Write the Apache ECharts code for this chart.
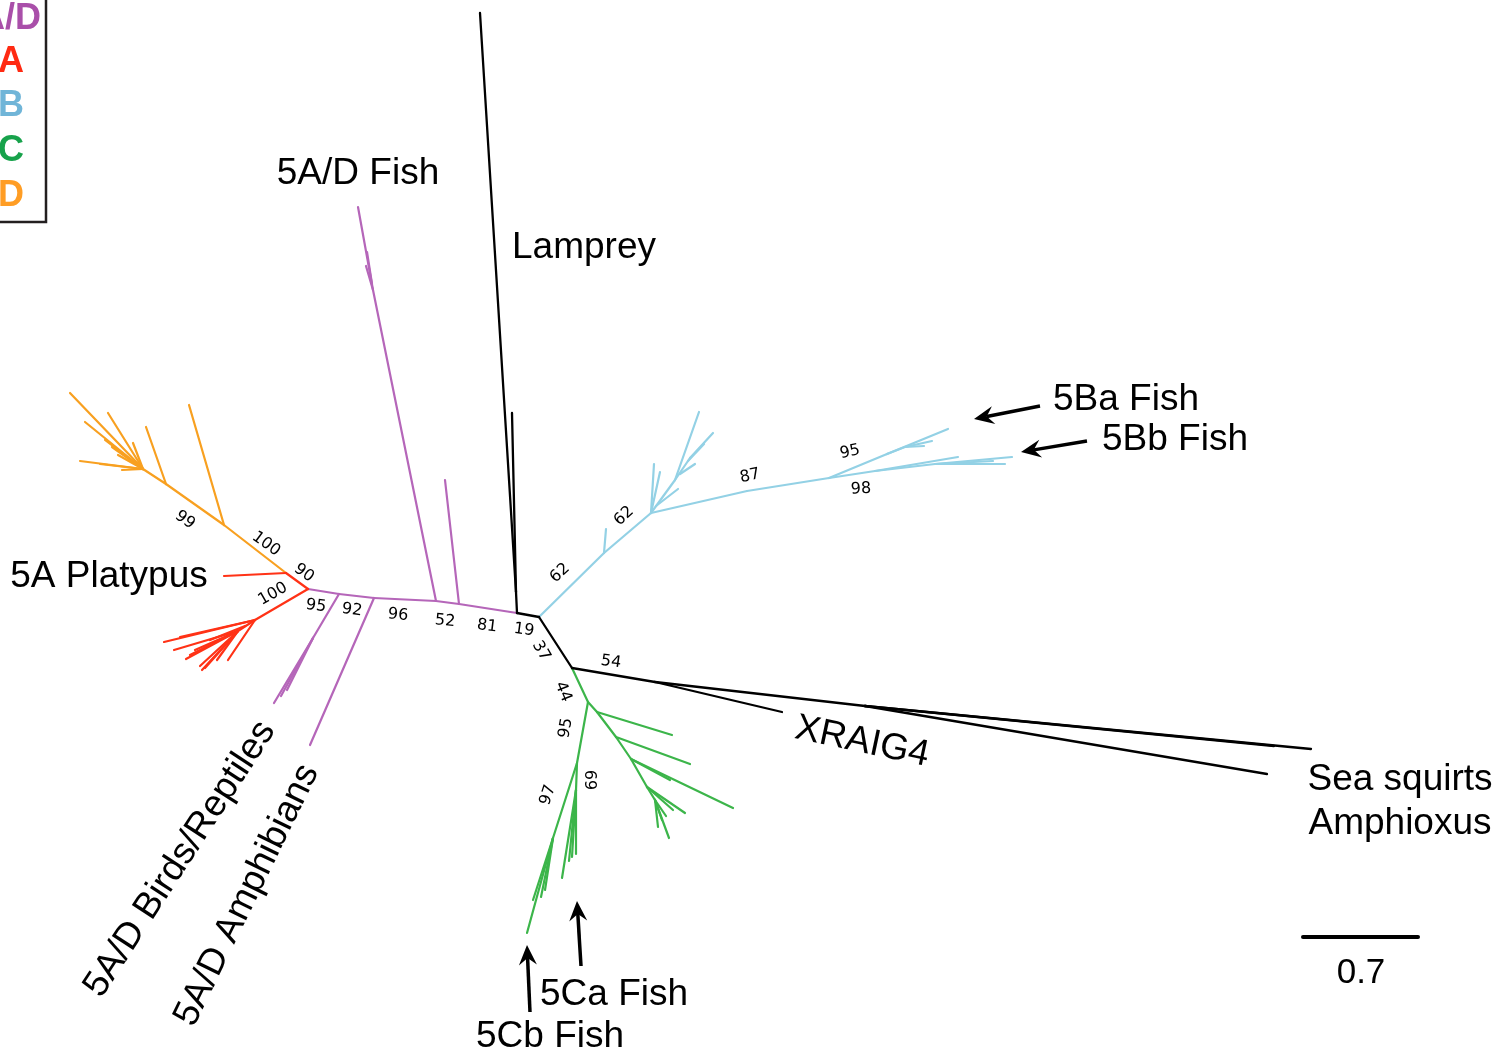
<!DOCTYPE html>
<html>
<head>
<meta charset="utf-8">
<script src="https://cdn.jsdelivr.net/npm/echarts@6/dist/echarts.min.js"></script>
<style>
html,body{margin:0;padding:0;background:#fff;}
#chart{width:1503px;height:1064px;}
</style>
</head>
<body>
<div id="chart"></div>
<script>
// ---- Tree branches (node positions in plot units) ----
const purplePaths = [
  [[308,589],[339,594],[374,598],[436,601],[459,604],[517,613]],
  [[339,594],[313,638],[274,703]],
  [[313,638],[287,690]],
  [[313,638],[281,696]],
  [[374,598],[310,745]],
  [[436,601],[373,290],[358,207]],
  [[372,284],[367,252]],
  [[373,290],[366,266]],
  [[459,604],[445,480]]
];
const blackPaths = [
  [[517,613],[516,592],[480,13]],
  [[516,592],[512,413]],
  [[517,613],[539,617],[572,668],[655,682],[782,712]],
  [[655,682],[865,706],[1311,749]],
  [[865,706],[1274,746]],
  [[865,706],[1267,774]]
];
const bluePaths = [
  [[539,617],[604,553],[651,513]],
  [[604,553],[606,529]],
  [[651,513],[654,464]],
  [[651,513],[660,472]],
  [[651,513],[675,480],[699,412]],
  [[675,480],[690,458],[713,433]],
  [[688,461],[704,444]],
  [[680,474],[695,464]],
  [[656,506],[678,489]],
  [[651,513],[747,491],[829,478]],
  [[829,478],[887,454],[948,429]],
  [[887,454],[905,447],[932,441]],
  [[905,447],[924,446]],
  [[829,478],[875,471],[958,457]],
  [[875,471],[935,464],[1012,457]],
  [[935,464],[1005,464]],
  [[935,464],[993,461]]
];
const greenPaths = [
  [[572,668],[588,702],[597,712],[672,735]],
  [[597,712],[616,737],[690,764]],
  [[616,737],[631,759],[733,808]],
  [[631,759],[670,780]],
  [[631,759],[647,787],[685,813]],
  [[647,787],[673,810]],
  [[647,787],[655,800],[669,838]],
  [[655,800],[658,827]],
  [[655,800],[662,820]],
  [[655,800],[666,816]],
  [[588,702],[577,763],[553,838],[527,933]],
  [[553,838],[533,900]],
  [[553,838],[541,897]],
  [[553,838],[545,890]],
  [[577,763],[576,790],[576,854]],
  [[576,790],[572,857]],
  [[576,790],[569,861]],
  [[576,790],[562,878]]
];
const orangePaths = [
  [[286,573],[224,525],[189,405]],
  [[224,525],[166,484],[146,427]],
  [[166,484],[143,469],[70,393]],
  [[143,469],[108,413]],
  [[143,469],[85,422]],
  [[143,469],[105,440]],
  [[143,469],[112,447]],
  [[143,469],[133,443]],
  [[143,469],[80,461]],
  [[143,469],[100,464]],
  [[143,469],[122,470]],
  [[143,469],[118,455]]
];
const redPaths = [
  [[308,589],[286,573],[224,576]],
  [[308,589],[255,620],[164,642]],
  [[255,620],[180,637]],
  [[255,620],[238,631],[174,650]],
  [[238,631],[186,659]],
  [[238,631],[202,670]],
  [[238,631],[205,668]],
  [[238,631],[217,660]],
  [[255,620],[228,660]],
  [[238,631],[195,650]],
  [[238,631],[200,666]],
  [[238,631],[190,655]],
  [[245,626],[210,640]]
];

// ---- Text labels ----
const labelText = ["5A/D Fish","Lamprey","5Ba Fish","5Bb Fish","5A Platypus","XRAIG4",
  "Sea squirts","Amphioxus","5A/D Birds/Reptiles","5A/D Amphibians","5Ca Fish","5Cb Fish"];
const labelX = [358,584,1126,1175,109,862,1400,1400,180,247,614,550];
const labelY = [174,248,400,440,577,742,780,824,859,895,995,1037];
const labelRot = [0,0,0,0,0,12,0,0,-57,-64,0,0];

// ---- Bootstrap support values ----
const bsText = ["99","100","90","100","95","92","96","52","81","19","37","54","44","95","97","69","62","62","87","95","98"];
const bsX = [185,266,304,273,316,352,398,445,487,524,541,611,563,566,548,589,560,624,750,850,861];
const bsY = [520,544,573,594,606,610,615,621,626,630,651,662,692,728,795,780,573,516,476,452,489];
const bsRot = [36,36,36,-30,8,8,5,5,7,8,60,8,68,-80,-72,90,-42,-42,-12,-12,-3];

// ---- Arrows (tail -> head) ----
const arrows = [
  [1040,406,974,419],
  [1087,441,1021,452],
  [530,1012,527,945],
  [581,966,577,901]
];

// ---- Scale bar ----
const scaleBar = [[1303,937,1418,937]];
const scaleText = ["0.7"];
const scaleX = [1361];
const scaleY = [973];

// ---- Legend ----
const legendText = ["5A/D","5A","5B","5C","5D"];
const legendColors = ["#a94fa9","#ff2a12","#70b5d8","#17a24b","#ff9d24"];

function toSegs(paths){
  const segs = [];
  paths.forEach(p => { for (let i=0;i<p.length-1;i++) segs.push([p[i][0],p[i][1],p[i+1][0],p[i+1][1]]); });
  return segs;
}
function segSeries(paths, color, width){
  return {
    type:'custom', coordinateSystem:'cartesian2d', silent:true, animation:false,
    data: toSegs(paths), encode:{x:[0,2], y:[1,3]},
    renderItem:(params, api) => {
      const a = api.coord([api.value(0), api.value(1)]);
      const b = api.coord([api.value(2), api.value(3)]);
      return {type:'line', shape:{x1:a[0],y1:a[1],x2:b[0],y2:b[1]},
        style:{stroke:color, lineWidth:width, lineCap:'round'}};
    }
  };
}
function textSeries(texts, xs, ys, rots, font, color){
  return {
    type:'custom', coordinateSystem:'cartesian2d', silent:true, animation:false,
    data: texts.map((t,i) => [xs[i], ys[i], rots[i], i]),
    renderItem:(params, api) => {
      const p = api.coord([api.value(0), api.value(1)]);
      const i = api.value(3);
      return {type:'text', x:p[0], y:p[1], rotation: -api.value(2)*Math.PI/180,
        style:{text:texts[i], font:font, fill:color, align:'center', verticalAlign:'middle'}};
    }
  };
}
function arrowSeries(data){
  return {
    type:'custom', coordinateSystem:'cartesian2d', silent:true, animation:false,
    data: data,
    renderItem:(params, api) => {
      const a = api.coord([api.value(0), api.value(1)]);
      const b = api.coord([api.value(2), api.value(3)]);
      const dx = b[0]-a[0], dy = b[1]-a[1], L = Math.hypot(dx,dy);
      const ux = dx/L, uy = dy/L, nx = -uy, ny = ux;
      const hl = 20, hw = 9, back = 13;
      const base = [b[0]-ux*hl, b[1]-uy*hl];
      const notch = [b[0]-ux*back, b[1]-uy*back];
      return {type:'group', children:[
        {type:'line', shape:{x1:a[0],y1:a[1],x2:notch[0],y2:notch[1]}, style:{stroke:'#000', lineWidth:3.5}},
        {type:'polygon', shape:{points:[b,[base[0]+nx*hw, base[1]+ny*hw], notch, [base[0]-nx*hw, base[1]-ny*hw]]},
          style:{fill:'#000'}}
      ]};
    }
  };
}

const chart = echarts.init(document.getElementById('chart'), null, {renderer:'canvas'});
const labelFont = '37px "Liberation Sans", Arial, sans-serif';
const bsFont = '16px "DejaVu Sans", sans-serif';

const legendGraphics = [
  {type:'polyline', shape:{points:[[46,-5],[46,222],[-5,222]]}, style:{stroke:'#231f20', lineWidth:2.5, fill:null}}
];
const legendRight = [41,24,24,24,24];
const legendY = [19,62,106,151,196];
legendText.forEach((t,i) => {
  legendGraphics.push({type:'text', x:legendRight[i], y:legendY[i],
    style:{text:t, font:'bold 36px "Liberation Sans", Arial, sans-serif', fill:legendColors[i], align:'right', verticalAlign:'middle'}});
});

chart.setOption({
  animation:false,
  backgroundColor:'#ffffff',
  grid:{left:0, right:0, top:0, bottom:0},
  xAxis:{type:'value', min:0, max:1503, show:false},
  yAxis:{type:'value', min:0, max:1064, inverse:true, show:false},
  graphic: legendGraphics,
  series:[
    segSeries(purplePaths, '#b566b9', 2.2),
    segSeries(orangePaths, '#f8a020', 2.2),
    segSeries(redPaths, '#ff3216', 2.2),
    segSeries(bluePaths, '#93d1e5', 2.2),
    segSeries(greenPaths, '#3cb54a', 2.2),
    segSeries(blackPaths, '#000000', 2.3),
    segSeries(scaleBar.map(s => [[s[0],s[1]],[s[2],s[3]]]), '#000000', 4),
    arrowSeries(arrows),
    textSeries(labelText, labelX, labelY, labelRot, labelFont, '#000'),
    textSeries(bsText, bsX, bsY, bsRot, bsFont, '#000'),
    textSeries(scaleText, scaleX, scaleY, [0], '35px "Liberation Sans", Arial, sans-serif', '#000')
  ]
});
</script>
</body>
</html>
